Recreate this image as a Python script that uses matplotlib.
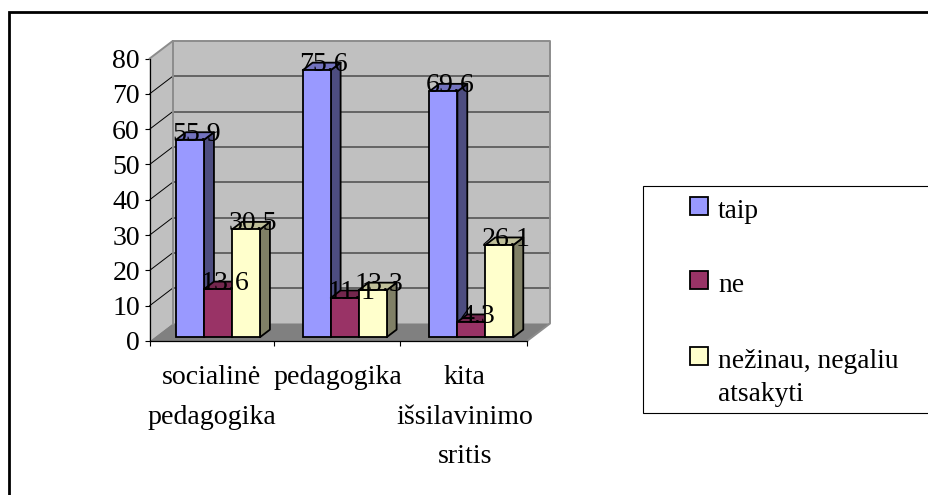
import matplotlib
matplotlib.use("Agg")
import matplotlib.pyplot as plt
from matplotlib.patches import Polygon, Rectangle

plt.rcParams['font.family'] = ['Liberation Serif', 'DejaVu Serif']

categories = ["socialinė\npedagogika", "pedagogika", "kita\nišsilavinimo\nsritis"]
series_names = ["taip", "ne", "nežinau, negaliu\natsakyti"]
taip = [55.9, 75.6, 69.6]
ne = [13.6, 11.1, 4.3]
nezinau = [30.5, 13.3, 26.1]
series_values = [taip, ne, nezinau]
front_colors = ["#9999FF", "#993366", "#FFFFCC"]
side_colors = ["#4D4D80", "#4D1A33", "#808066"]
top_colors = ["#7373BF", "#73264D", "#BFBF99"]
y_ticks = [0, 10, 20, 30, 40, 50, 60, 70, 80]

W, H = 929, 495
FS = 20.1
fig = plt.figure(figsize=(W / 100, H / 100), dpi=100, facecolor="white")
L, R, T, B = 149.7, 527.0, 58.5, 341.0
X0 = 0.0213
ax = fig.add_axes([L / W, 1 - B / H, (R - L) / W, (B - T) / H])
ax.set_xlim(X0, 3)
ax.set_ylim(0, 80)
ax.patch.set_visible(False)

# depth of the 3D box, in data units
PX = (3 - X0) / (R - L)
PY = 80 / (B - T)
DX, DY = 23 * PX, 17.5 * PY


def depth(x, y, f):
    return (x + f * DX, y + f * DY)


def poly(pts, fc, ec="none", lw=0.0, z=1):
    ax.add_patch(Polygon(pts, closed=True, facecolor=fc, edgecolor=ec,
                         linewidth=lw, zorder=z, clip_on=False,
                         joinstyle="round"))


# walls and floor
poly([(X0, 0), (X0, 80), depth(X0, 80, 1), depth(X0, 0, 1)], "#C0C0C0", z=1)
poly([depth(X0, 0, 1), depth(X0, 80, 1), depth(3, 80, 1), depth(3, 0, 1)], "#C0C0C0", z=1)
poly([(X0, 0), (3, 0), depth(3, 0, 1), depth(X0, 0, 1)], "#808080", z=2)
for v in y_ticks[1:-1]:
    ax.plot(*zip((X0, v), depth(X0, v, 1)), color="black", lw=0.7, zorder=2, clip_on=False)
    ax.plot(*zip(depth(X0, v, 1), depth(3, v, 1)), color="#555555", lw=1.2, zorder=2, clip_on=False)
wall_edge = dict(color="#8C8C8C", lw=1.4, zorder=3, clip_on=False, solid_capstyle="projecting")
ax.plot(*zip((X0, 80), depth(X0, 80, 1), depth(3, 80, 1), depth(3, 0, 1), (3, 0)), **wall_edge)
ax.plot(*zip(depth(X0, 80, 1), depth(X0, 0, 1)), **wall_edge)

# bars
GAP, BW = 0.1895, 0.221
F0, F1 = 0.22, 0.65
EDGE = 1.3
z = 5
for i in range(len(categories)):
    for k, vals in enumerate(series_values):
        x0 = i + GAP + k * BW
        x1 = x0 + BW
        v = vals[i]
        base = F0 * DY
        sx0, sx1 = x0 + F0 * DX, x1 + F0 * DX
        d = F1 - F0
        top = base + v
        poly([(sx1, base), (sx1, top), depth(sx1, top, d), depth(sx1, base, d)],
             side_colors[k], "black", EDGE, z)
        poly([(sx0, top), (sx1, top), depth(sx1, top, d), depth(sx0, top, d)],
             top_colors[k], "black", EDGE, z)
        ax.bar(sx0, v, BW, bottom=base, align="edge", color=front_colors[k],
               edgecolor="black", linewidth=EDGE, zorder=z, clip_on=False)
        z += 1

# data labels
for i in range(len(categories)):
    for k, vals in enumerate(series_values):
        xc = i + GAP + (k + 0.5) * BW + F0 * DX
        ax.annotate(f"{vals[i]:.1f}", (xc, F0 * DY + vals[i]),
                    xytext=(6.5 * 0.72, 5.5 * 0.72), textcoords="offset points",
                    ha="center", va="center", fontsize=FS, color="black",
                    zorder=50, annotation_clip=False)

# axes
for s in ("top", "right"):
    ax.spines[s].set_visible(False)
for s in ("left", "bottom"):
    ax.spines[s].set_color("black")
    ax.spines[s].set_linewidth(0.9)
    ax.spines[s].set_zorder(4)
ax.set_yticks(y_ticks)
ax.tick_params(axis="y", length=3.8, width=0.8, labelsize=FS, pad=3.2)
ax.set_xticks([X0, 1, 2, 3])
ax.set_xticklabels([])
ax.tick_params(axis="x", length=3.8, width=0.8)
ax.set_xticks([0.51, 1.51, 2.51], labels=categories, minor=True)
ax.tick_params(axis="x", which="minor", length=0, labelsize=FS, pad=17.5)
for lab in ax.get_xticklabels(minor=True):
    lab.set_linespacing(1.76)


def fx(px):
    return px / W


def fy(py):
    return 1 - py / H


# outer chart frame (runs off the right and bottom edges)
fig.add_artist(Rectangle((fx(9), fy(H + 10)), fx(W + 20 - 9), (H + 10 - 12.5) / H,
                         transform=fig.transFigure, facecolor="none",
                         edgecolor="black", linewidth=2.0))

# legend box (runs off the right edge)
fig.add_artist(Rectangle((fx(643), fy(412.7)), fx(320), (412.7 - 185.7) / H,
                         transform=fig.transFigure, facecolor="white",
                         edgecolor="black", linewidth=0.8))
swatch_tops = [197, 271, 346.5]
for k, name in enumerate(series_names):
    top = swatch_tops[k]
    fig.add_artist(Rectangle((fx(690), fy(top + 18)), 18 / W, 18 / H,
                             transform=fig.transFigure, facecolor=front_colors[k],
                             edgecolor="black", linewidth=1.3))
    baseline = top + 18 + 2.5 + (34 if "\n" in name else 0)
    fig.text(fx(718), fy(baseline), name, fontsize=19.8, ha="left",
             va="baseline", linespacing=1.42)

fig.savefig("out.png", dpi=100)
